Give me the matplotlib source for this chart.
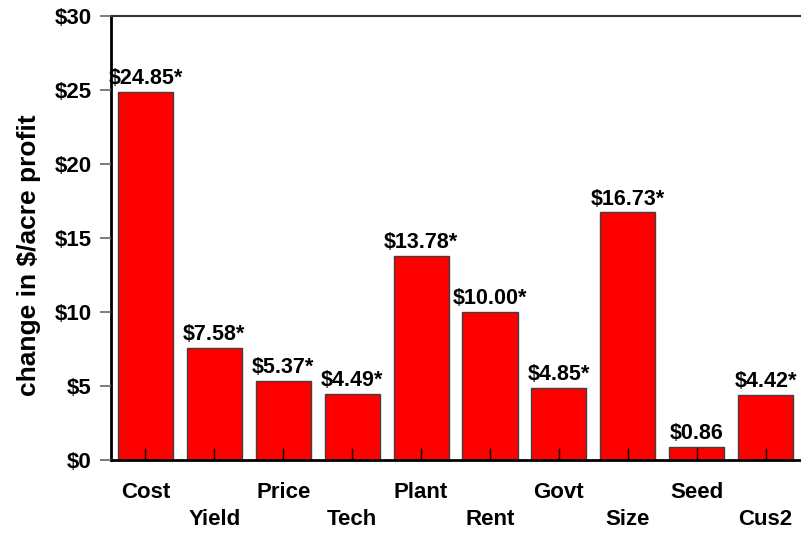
import matplotlib
matplotlib.use("Agg")
import matplotlib.pyplot as plt

plt.rcParams['font.family'] = ['Liberation Sans', 'DejaVu Sans']
plt.rcParams['font.weight'] = 'bold'

categories = ['Cost', 'Yield', 'Price', 'Tech', 'Plant', 'Rent', 'Govt', 'Size', 'Seed', 'Cus2']
values = [24.85, 7.58, 5.37, 4.49, 13.78, 10.00, 4.85, 16.73, 0.86, 4.42]
bar_labels = ['$24.85*', '$7.58*', '$5.37*', '$4.49*', '$13.78*', '$10.00*',
              '$4.85*', '$16.73*', '$0.86', '$4.42*']
yticks = [0, 5, 10, 15, 20, 25, 30]
ytick_labels = ['$0', '$5', '$10', '$15', '$20', '$25', '$30']

fig = plt.figure(figsize=(8.01, 5.34), dpi=100)
ax = fig.add_axes([0.1386, 0.1386, 0.8602, 0.8314])

x = list(range(len(categories)))
ax.bar(x, values, width=0.8, color='#ff0000', edgecolor='#404040', linewidth=1, zorder=2)

for xi, v, lab in zip(x, values, bar_labels):
    ax.annotate(lab, (xi, v), xytext=(0, 2), textcoords='offset points',
                ha='center', va='bottom', fontsize=15.5, fontweight='bold')

# category names on two staggered rows
for xi, name in zip(x, categories):
    off = -23.5 if xi % 2 == 0 else -42.5
    ax.annotate(name, (xi, 0), xycoords=('data', 'axes fraction'),
                xytext=(0, off), textcoords='offset points',
                ha='center', va='center', fontsize=16, fontweight='bold')

ax.set_xlim(-0.5, 9.5)
ax.set_ylim(0, 30)
ax.set_yticks(yticks)
ax.set_yticklabels(ytick_labels, fontsize=16, fontweight='bold')
ax.set_xticks(x)
ax.set_xticklabels([])
ax.tick_params(axis='x', direction='in', length=9, width=1, color='black')
ax.tick_params(axis='y', direction='out', length=8, width=1.2, color='#666666', pad=6)
for t in ax.xaxis.get_major_ticks():
    t.tick1line.set_zorder(3)
ax.set_axisbelow(False)

ax.spines['right'].set_visible(False)
ax.spines['left'].set_linewidth(2)
ax.spines['bottom'].set_linewidth(2)
ax.spines['top'].set_linewidth(1.5)
ax.spines['top'].set_color('#333333')

ax.set_ylabel('change in $/acre profit', fontsize=19, fontweight='bold')
ax.yaxis.set_label_coords(-0.102, 0.462)

fig.savefig('out.png', dpi=100)
